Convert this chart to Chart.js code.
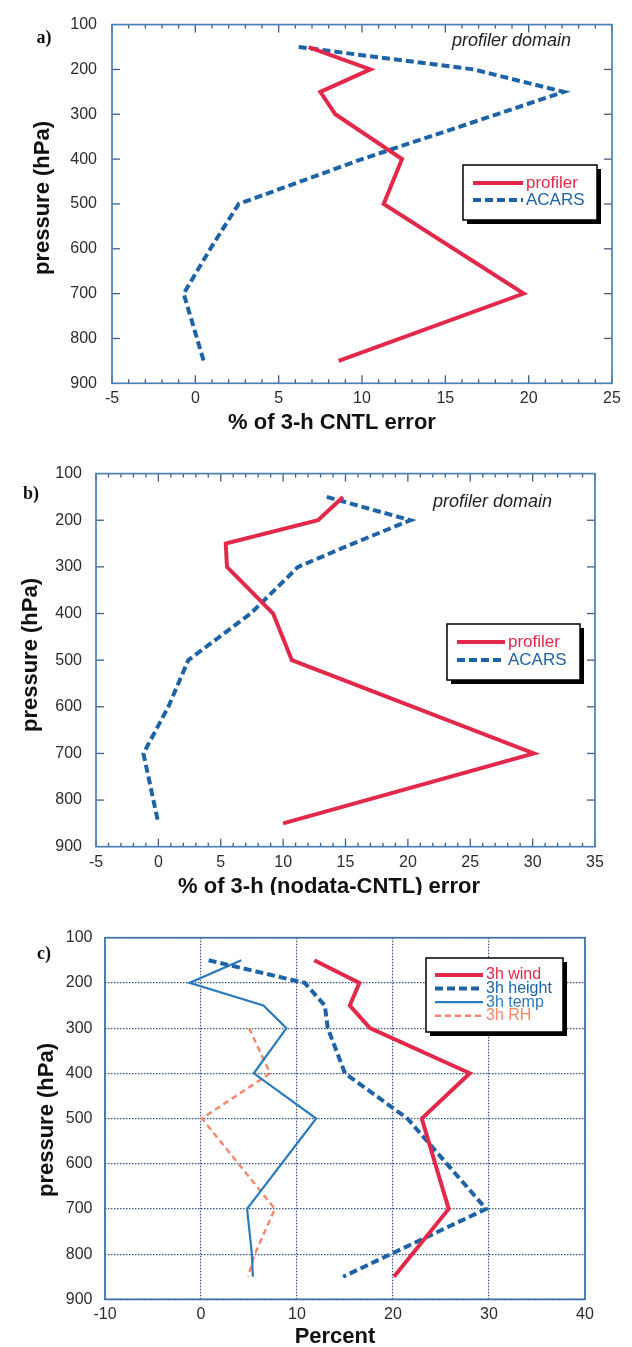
<!DOCTYPE html>
<html>
<head>
<meta charset="utf-8">
<script src="https://cdn.jsdelivr.net/npm/chart.js@4.4.0/dist/chart.umd.min.js"></script>
<style>
  body { margin: 0; background: #fff; width: 632px; height: 1347px; position: relative; overflow: hidden; }
  canvas { position: absolute; left: 0; }
</style>
</head>
<body>
<canvas id="pa" width="632" height="450" style="top:0px"></canvas>
<canvas id="pb" width="632" height="445" style="top:450px"></canvas>
<canvas id="pc" width="632" height="452" style="top:895px"></canvas>
<script>
// tick labels
const pressureTicks = [100, 200, 300, 400, 500, 600, 700, 800, 900]
const xTicksA = [-5, 0, 5, 10, 15, 20, 25]
const xTicksB = [-5, 0, 5, 10, 15, 20, 25, 30, 35]
const xTicksC = [-10, 0, 10, 20, 30, 40]

// a) % of 3-h CNTL error
const aProfilerP = [150, 200, 250, 300, 400, 500, 700, 850]
const aProfiler = [6.8, 10.5, 7.5, 8.4, 12.4, 11.3, 19.7, 8.6]
const aAcarsP = [150, 200, 250, 300, 400, 500, 600, 700, 850]
const aAcars = [6.2, 16.7, 22.1, 18.1, 10.0, 2.6, 0.9, -0.7, 0.5]

// b) % of 3-h (nodata-CNTL) error
const bProfilerP = [150, 200, 250, 300, 400, 500, 700, 850]
const bProfiler = [14.8, 12.8, 5.4, 5.5, 9.2, 10.7, 30.1, 10.0]
const bAcarsP = [150, 200, 250, 300, 400, 500, 600, 700, 850]
const bAcars = [13.5, 20.2, 15.6, 11.2, 7.4, 2.4, 0.8, -1.2, 0.0]

// c) Percent
const cWindP = [150, 200, 250, 300, 400, 500, 700, 850]
const cWind = [11.8, 16.5, 15.5, 17.6, 28.0, 23.0, 25.8, 20.1]
const cHeightP = [150, 200, 250, 300, 400, 500, 700, 850]
const cHeight = [0.8, 10.8, 12.9, 13.2, 15.0, 21.5, 29.7, 14.8]
const cTempP = [150, 200, 250, 300, 400, 500, 700, 800, 850]
const cTemp = [4.2, -1.2, 6.5, 8.9, 5.5, 12.0, 4.8, 5.3, 5.4]
const cRhP = [300, 400, 500, 700, 800, 850]
const cRh = [5.0, 7.2, 0.1, 7.7, 5.6, 4.9]

const RED = '#e2294b'
const BLUE = '#1d63a6'
const TEMP = '#2b7bba'
const RH = '#f2876c'

const pts = (vals, levels) => vals.map((v, i) => ({ x: v, y: levels[i] }))

// frame, inward ticks, titles and the shadowed legend box
const deco = {
  id: 'deco',
  afterDatasetsDraw(chart, args, o) {
    const { ctx, chartArea: a } = chart
    const xs = chart.scales.x
    const ys = chart.scales.y
    const seg = (x1, y1, x2, y2) => {
      ctx.beginPath(); ctx.moveTo(x1, y1); ctx.lineTo(x2, y2); ctx.stroke()
    }
    ctx.save()
    if (o.minorTicks) {
      ctx.strokeStyle = '#3d5f86'
      ctx.lineWidth = 1.3
      for (let v = xs.min; v <= xs.max; v += 1) {
        const px = xs.getPixelForValue(v)
        const len = v % 5 === 0 ? 8 : 4
        seg(px, a.top, px, a.top + len)
        seg(px, a.bottom, px, a.bottom - len)
      }
      for (let p = ys.min + 100; p < ys.max; p += 100) {
        const py = ys.getPixelForValue(p)
        seg(a.left, py, a.left + 8, py)
        seg(a.right, py, a.right - 8, py)
      }
    }
    ctx.strokeStyle = o.frameColor
    ctx.lineWidth = 1.7
    ctx.strokeRect(a.left, a.top, a.right - a.left, a.bottom - a.top)

    ctx.fillStyle = '#111'
    ctx.textBaseline = 'middle'
    ctx.textAlign = 'center'
    ctx.font = 'bold 18px "Liberation Serif"'
    ctx.fillText(o.letter, o.letterX, o.letterY)

    ctx.font = 'bold 22px "Liberation Sans"'
    ctx.fillText(o.xTitle, o.xTitleX, o.xTitleY)
    ctx.save()
    ctx.translate(o.yTitleX, o.yTitleY)
    ctx.rotate(-Math.PI / 2)
    ctx.fillText('pressure (hPa)', 0, 0)
    ctx.restore()

    if (o.note) {
      ctx.textAlign = 'left'
      ctx.fillStyle = '#222'
      ctx.font = 'italic 18px "Liberation Sans"'
      ctx.fillText(o.note, o.noteX, o.noteY)
    }

    const L = o.legend
    ctx.fillStyle = '#000'
    ctx.fillRect(L.x + 4, L.y + 4, L.w, L.h)
    ctx.fillStyle = '#fff'
    ctx.fillRect(L.x, L.y, L.w, L.h)
    ctx.strokeStyle = '#000'
    ctx.lineWidth = 1.5
    ctx.strokeRect(L.x, L.y, L.w, L.h)
    ctx.textAlign = 'left'
    ctx.font = L.size + 'px "Liberation Sans"'
    chart.data.datasets.forEach((ds, i) => {
      const yy = L.y + L.first + i * L.gap
      ctx.strokeStyle = ds.borderColor
      ctx.lineWidth = ds.borderWidth
      ctx.setLineDash(ds.borderDash || [])
      seg(L.x0, yy, L.x1, yy)
      ctx.setLineDash([])
      ctx.fillStyle = ds.textColor || ds.borderColor
      ctx.fillText(ds.label, L.x1 + 3, yy)
    })
    ctx.restore()
  }
}

function makePanel(id, cfg) {
  const tickFont = { family: 'Liberation Sans', size: 16 }
  // grid.drawTicks off everywhere so labels sit right under the frame
  const grid = cfg.grid
    ? { color: '#3b5680', lineWidth: 1.2, drawTicks: false }
    : { display: false, drawTicks: false }
  return new Chart(document.getElementById(id), {
    type: 'scatter',
    data: { datasets: cfg.datasets },
    plugins: [deco],
    options: {
      responsive: false,
      animation: false,
      layout: { padding: cfg.padding },
      elements: { point: { radius: 0 }, line: { tension: 0 } },
      scales: {
        x: {
          type: 'linear',
          min: cfg.xTicks[0],
          max: cfg.xTicks[cfg.xTicks.length - 1],
          afterBuildTicks: s => { s.ticks = cfg.xTicks.map(v => ({ value: v })) },
          afterFit: s => { s.height = cfg.xHeight },
          ticks: { font: tickFont, color: '#2c2c2c', padding: cfg.xPad, autoSkip: false, maxRotation: 0 },
          grid: grid,
          border: { display: false, dash: [1.5, 1.5] }
        },
        y: {
          type: 'linear',
          reverse: true,
          min: 100,
          max: 900,
          afterBuildTicks: s => { s.ticks = pressureTicks.map(v => ({ value: v })) },
          afterFit: s => { s.width = cfg.yWidth },
          ticks: { font: tickFont, color: '#2c2c2c', padding: cfg.yPad },
          grid: grid,
          border: { display: false, dash: [1.5, 1.5] }
        }
      },
      plugins: {
        legend: { display: false },
        tooltip: { enabled: false },
        deco: cfg.deco
      }
    }
  })
}

makePanel('pa', {
  padding: { top: 17.5, right: 20, bottom: 0, left: 0 },
  yWidth: 112, xHeight: 66.7, xPad: 6, yPad: 15,
  xTicks: xTicksA,
  datasets: [
    { label: 'profiler', data: pts(aProfiler, aProfilerP), showLine: true, borderColor: RED, borderWidth: 4 },
    { label: 'ACARS', data: pts(aAcars, aAcarsP), showLine: true, borderColor: BLUE, borderWidth: 4, borderDash: [8, 4] }
  ],
  deco: {
    minorTicks: true, frameColor: '#4b80b6',
    letter: 'a)', letterX: 44, letterY: 38,
    xTitle: '% of 3-h CNTL error', xTitleX: 332, xTitleY: 423,
    yTitleX: 43, yTitleY: 198,
    note: 'profiler domain', noteX: 452, noteY: 41,
    legend: { x: 463, y: 165, w: 134, h: 55, x0: 473, x1: 523, first: 18, gap: 17, size: 17 }
  }
})

makePanel('pb', {
  padding: { top: 23.3, right: 37, bottom: 0, left: 0 },
  yWidth: 96, xHeight: 48.3, xPad: 6, yPad: 14,
  xTicks: xTicksB,
  datasets: [
    { label: 'profiler', data: pts(bProfiler, bProfilerP), showLine: true, borderColor: RED, borderWidth: 4 },
    { label: 'ACARS', data: pts(bAcars, bAcarsP), showLine: true, borderColor: BLUE, borderWidth: 4, borderDash: [8, 4] }
  ],
  deco: {
    minorTicks: true, frameColor: '#4b80b6',
    letter: 'b)', letterX: 31, letterY: 44,
    xTitle: '% of 3-h (nodata-CNTL) error', xTitleX: 329, xTitleY: 437,
    yTitleX: 31, yTitleY: 205,
    note: 'profiler domain', noteX: 433, noteY: 52,
    legend: { x: 447, y: 174, w: 133, h: 56, x0: 457, x1: 505, first: 18, gap: 18, size: 17 }
  }
})

makePanel('pc', {
  padding: { top: 42.7, right: 47, bottom: 0, left: 0 },
  yWidth: 105, xHeight: 47.7, xPad: 6, yPad: 12.5,
  xTicks: xTicksC,
  grid: true,
  datasets: [
    { label: '3h wind', data: pts(cWind, cWindP), showLine: true, borderColor: RED, borderWidth: 4 },
    { label: '3h height', data: pts(cHeight, cHeightP), showLine: true, borderColor: BLUE, borderWidth: 4, borderDash: [8, 4] },
    { label: '3h temp', data: pts(cTemp, cTempP), showLine: true, borderColor: TEMP, borderWidth: 2.2 },
    { label: '3h RH', data: pts(cRh, cRhP), showLine: true, borderColor: RH, borderWidth: 2.4, borderDash: [6, 4] }
  ],
  deco: {
    minorTicks: false, frameColor: '#3a70ad',
    letter: 'c)', letterX: 44, letterY: 59,
    xTitle: 'Percent', xTitleX: 335, xTitleY: 442,
    yTitleX: 47, yTitleY: 225,
    legend: { x: 426, y: 63, w: 137, h: 74, x0: 435, x1: 483, first: 17, gap: 13.6, size: 16 }
  }
})
</script>
</body>
</html>
